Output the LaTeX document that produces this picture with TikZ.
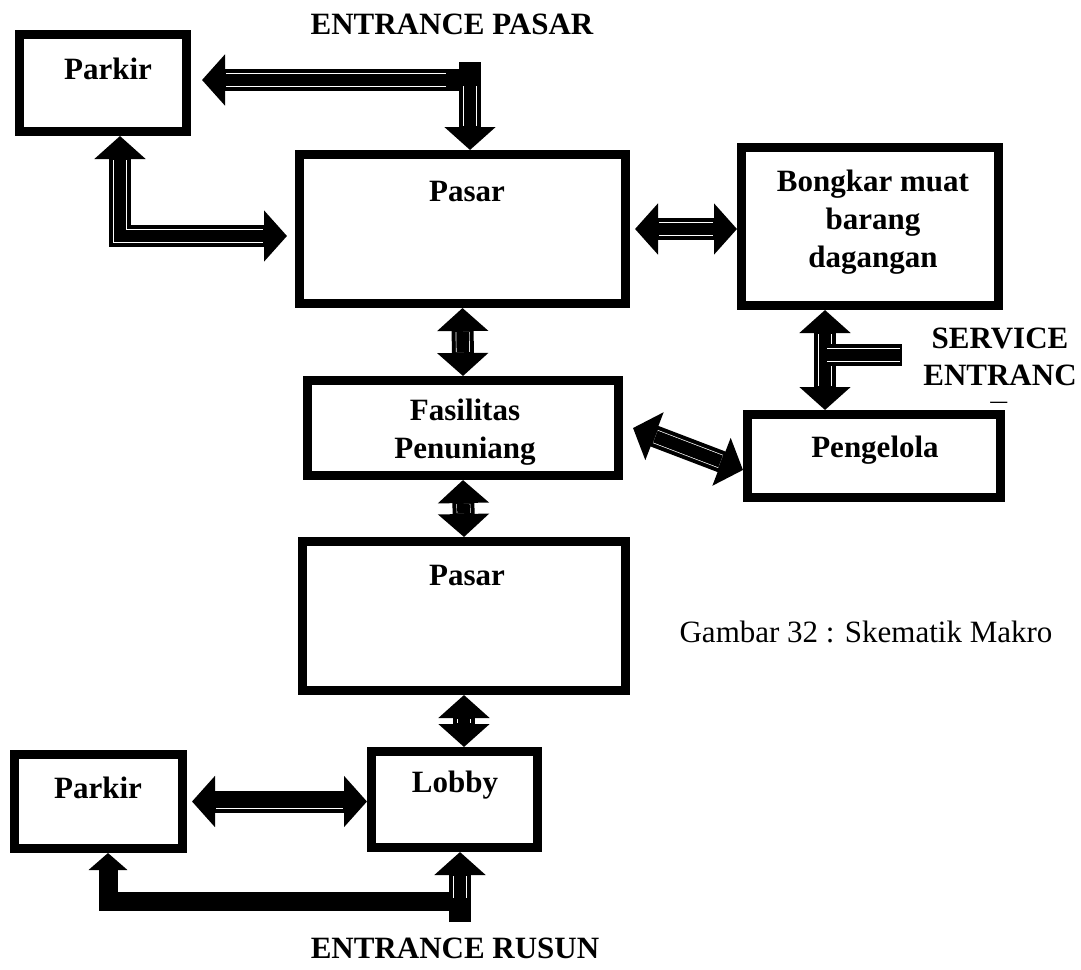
\documentclass[tikz,border=0pt]{standalone}
\usepackage{fontspec}
\setmainfont{Liberation Serif}
\usepackage{tikz}
\usetikzlibrary{arrows.meta}
\usetikzlibrary{backgrounds}
\usetikzlibrary{positioning,calc}
\pgfdeclarelayer{edgelayer}
\pgfdeclarelayer{nodelayer}
\pgfsetlayers{background,edgelayer,nodelayer,main}
\tikzstyle{box}=[draw=black,line width=4.5pt,shape=rectangle,inner sep=0pt]
\tikzstyle{lbl}=[font=\bfseries\fontsize{15.5}{19}\selectfont,align=center,inner sep=0pt]
\tikzstyle{captxt}=[font=\fontsize{15.5}{19}\selectfont,inner sep=0pt]
\tikzstyle{fat}=[draw=black,line width=11pt,line join=miter,>={Triangle[width=25pt,length=11.5pt]}]
\tikzset{
	seam/.style={postaction={draw=white,line width=7pt,arrows=-,shorten <=#1,shorten >=#1},
		postaction={draw=black,line width=6.3pt,arrows=-,shorten <=#1,shorten >=#1}},
	seam/.default=12pt
}

\begin{document}
\begin{tikzpicture}[x=0.5pt,y=-0.5pt]
	\useasboundingbox (0,0) rectangle (1081,969);
	\begin{pgfonlayer}{nodelayer}
		\node [style=box, minimum width=83.5pt, minimum height=48.5pt] (parkirA) at (103, 83) {};
		\node [style=box, minimum width=163pt, minimum height=74.5pt] (pasarA) at (462.5, 229) {};
		\node [style=box, minimum width=128.5pt, minimum height=79pt] (bongkar) at (870, 226.5) {};
		\node [style=box, minimum width=155.5pt, minimum height=47.5pt] (fasil) at (463, 428) {};
		\node [style=box, minimum width=126.5pt, minimum height=41.5pt] (kelola) at (874, 456) {};
		\node [style=box, minimum width=161.5pt, minimum height=74.5pt] (pasarB) at (464, 616) {};
		\node [style=box, minimum width=84pt, minimum height=47pt] (parkirB) at (98.5, 801.5) {};
		\node [style=box, minimum width=83pt, minimum height=48pt] (lobby) at (454.5, 799.5) {};

		\node [style=lbl] (entPt) at (452, 24) {ENTRANCE PASAR};
		\node [style=lbl] (parkirAt) at (108, 69) {Parkir};
		\node [style=lbl] (pasarAt) at (467, 191) {Pasar};
		\node [style=lbl] (bongkart) at (873, 222) {Bongkar muat\\barang\\dagangan};
		\node [style=lbl] (fasilt) at (465, 432) {Fasilitas\\Penuniang};
		\node [style=lbl] (kelolat) at (875, 450) {Pengelola};
		\node [style=lbl] (pasarBt) at (467, 575) {Pasar};
		\node [style=lbl] (parkirBt) at (98, 788) {Parkir};
		\node [style=lbl] (lobbyt) at (455, 785) {Lobby};
		\node [style=lbl] (entRt) at (455, 948) {ENTRANCE RUSUN};
		\node [style=captxt] (gambar) at (866, 632) {Gambar 32 : Skematik Makro};
		\begin{scope}
			\clip (900, 300) rectangle (1081, 402);
			\node [style=lbl, font=\bfseries\fontsize{15.5}{18.5}\selectfont] (svct) at (1000, 375) {SERVICE\\ENTRANC\\E};
		\end{scope}
	\end{pgfonlayer}
	\coordinate (entP) at (470, 62);
	\coordinate (entJ) at (470, 80);
	\coordinate (bendA) at (120, 236);
	\coordinate (svcT) at (825, 355);
	\coordinate (svcE) at (902, 355);
	\coordinate (entR) at (460, 922);
	\coordinate (bendB) at (108, 901);
	\begin{pgfonlayer}{edgelayer}
		\draw [style=fat, seam, ->] (entJ) -- ([xshift=5.5pt]parkirA.east |- entJ);
		\draw [style=fat, seam, ->] (entP) -- (pasarA.north -| entP);
		\draw [style=fat, seam, <->] (parkirA.south -| bendA) |- ([xshift=-4pt]pasarA.west |- bendA);
		\draw [style=fat, seam, <->] ([xshift=2.5pt]pasarA.east) -- (pasarA.east -| bongkar.west);
		\draw [style=fat, seam, <->] (pasarA.south) -- (fasil.north);
		\draw [style=fat, seam, <->] (bongkar.south -| svcT) -- (kelola.north -| svcT);
		\draw [style=fat, seam=1pt] (svcT) -- (svcE);
		\draw [style=fat, seam, <->] ([xshift=5pt]fasil.east) -- ([yshift=-7pt]kelola.west);
		\draw [style=fat, seam, <->] (fasil.south) -- (pasarB.north);
		\draw [style=fat, seam, <->] (pasarB.south) -- (pasarB.south |- lobby.north);
		\draw [style=fat, seam, <->] ([xshift=2.5pt]parkirB.east) -- (parkirB.east -| lobby.west);
		\draw [style=fat, line width=9.5pt, -{Triangle[width=19pt,length=8.5pt]}] (entR |- bendB) -- (bendB) -- (bendB |- parkirB.south);
		\draw [style=fat, seam, ->] (entR) -- (entR |- lobby.south);
	\end{pgfonlayer}
\end{tikzpicture}
\end{document}
